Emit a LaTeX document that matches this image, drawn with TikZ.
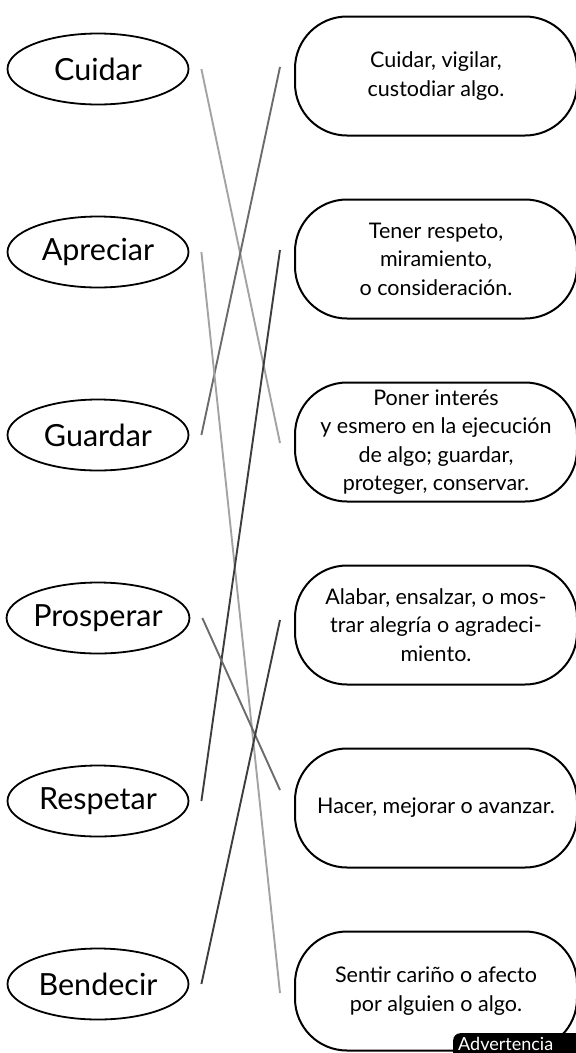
\documentclass[tikz,border=0pt]{standalone}
\usepackage{fontspec}
\setmainfont{Lato}
\usetikzlibrary{shapes.geometric}

\begin{document}
\begin{tikzpicture}[
  x=1pt, y=1pt,
  node distance=183pt,
  palabra/.style={draw,ellipse,line width=1.8pt,minimum width=181pt,minimum height=71pt,
    inner sep=0pt,font=\fontsize{30.5}{35}\selectfont},
  caja/.style={draw,rectangle,rounded corners=52pt,line width=2pt,minimum width=282pt,
    minimum height=119pt,inner sep=2pt,align=center,font=\fontsize{21.5}{28.5}\selectfont},
  ]
  \tikzset{%
    claro/.style={color=black!36, line width=1.9pt},
    medio/.style={color=black!58, line width=1.9pt},
    oscuro/.style={color=black!76, line width=1.9pt},
  }
  \useasboundingbox (0,0) rectangle (576,-1053);
  \clip (0,0) rectangle (576,-1053);
  %Nodes
  \node[palabra](cuidar) at (98,-69){Cuidar};
  \node[palabra](apreciar)[below of=cuidar]{Apreciar};
  \node[palabra](guardar)[below of=apreciar]{Guardar};
  \node[palabra](prosperar)[below of=guardar]{Prosperar};
  \node[palabra](respetar)[below of=prosperar]{Respetar};
  \node[palabra](bendecir)[below of=respetar]{Bendecir};
  \node[caja](def1) at (436,-76){Cuidar, vigilar,\\custodiar algo.};
  \node[caja](def2)[below of=def1]{Tener respeto,\\miramiento,\\o consideración.};
  \node[caja](def3)[below of=def2]{Poner interés\\y esmero en la ejecución\\de algo; guardar,\\proteger, conservar.};
  \node[caja](def4)[below of=def3]{Alabar, ensalzar, o mos-\\trar alegría o agradeci-\\miento.};
  \node[caja](def5)[below of=def4]{Hacer, mejorar o avanzar.};
  \node[caja](def6)[below of=def5]{Sentir cariño o afecto\\por alguien o algo.};
  \node[fill=black,rounded corners=7pt,anchor=north west,minimum width=150pt,
    minimum height=34pt](aviso) at (453,-1033){};
  \node[text=white,anchor=base west,inner sep=0pt,font=\fontsize{18}{20}\selectfont]
    (avisotxt) at (458,-1050.5){Advertencia};
  %Ends of the lines
  \coordinate (cuidar-r) at ([xshift=12pt]cuidar.east);
  \coordinate (apreciar-r) at ([xshift=12pt]apreciar.east);
  \coordinate (guardar-r) at ([xshift=12pt]guardar.east);
  \coordinate (prosperar-r) at ([xshift=12pt]prosperar.east);
  \coordinate (respetar-r) at ([xshift=12pt]respetar.east);
  \coordinate (bendecir-r) at ([xshift=12pt]bendecir.east);
  \coordinate (def1-l) at ([xshift=-14pt,yshift=9pt]def1.west);
  \coordinate (def2-l) at ([xshift=-14pt,yshift=9pt]def2.west);
  \coordinate (def3-l) at ([xshift=-14pt,yshift=-1pt]def3.west);
  \coordinate (def4-l) at ([xshift=-14pt,yshift=5pt]def4.west);
  \coordinate (def5-l) at ([xshift=-14pt,yshift=18pt]def5.west);
  \coordinate (def6-l) at ([xshift=-14pt,yshift=-2pt]def6.west);
  %Lines
  \draw[-]
    (cuidar-r) edge[claro](def3-l)
    (def1-l) edge[medio](guardar-r)
    (apreciar-r) edge[claro](def6-l)
    (def2-l) edge[oscuro](respetar-r)
    (prosperar-r) edge[medio](def5-l)
    (def4-l) edge[oscuro](bendecir-r)
    ;
\end{tikzpicture}
\end{document}
